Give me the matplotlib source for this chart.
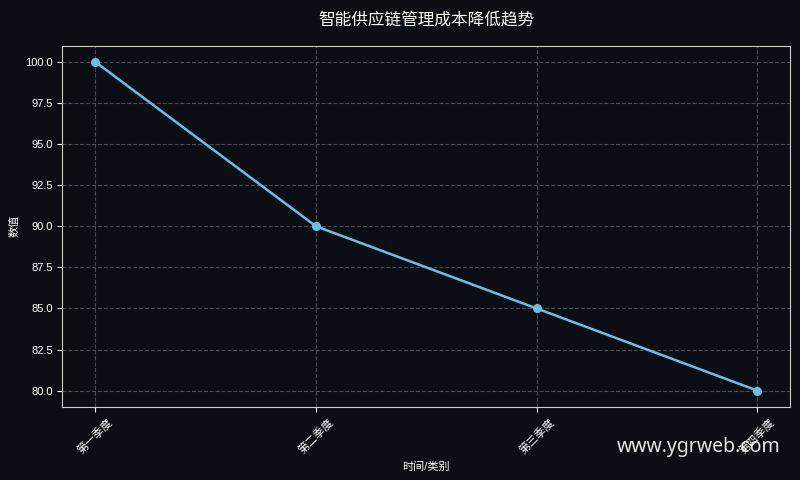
import matplotlib.pyplot as plt

plt.rcParams['font.family'] = ['Liberation Sans', 'Noto Sans CJK SC', 'DejaVu Sans']

categories = ['第一季度', '第二季度', '第三季度', '第四季度']
values = [100, 90, 85, 80]

bg = '#0b0e14'
fig, ax = plt.subplots(figsize=(8, 4.8), dpi=100)
fig.patch.set_facecolor(bg)
ax.set_facecolor(bg)

ax.plot(categories, values, color='#6bbfe0', linewidth=1.8, marker='o', markersize=5.5)

ax.set_title('智能供应链管理成本降低趋势', color='white', fontsize=12, pad=15)
ax.set_xlabel('时间/类别', color='white', fontsize=8)
ax.set_ylabel('数值', color='white', fontsize=8)
ax.tick_params(colors='white', labelsize=8)
plt.setp(ax.get_xticklabels(), rotation=45)
for s in ax.spines.values():
    s.set_color('#cccccc')
ax.grid(True, linestyle='--', color='#666666', alpha=0.7, linewidth=0.8)
ax.yaxis.set_major_formatter(plt.FormatStrFormatter('%.1f'))

fig.subplots_adjust(left=0.078, right=0.988, top=0.905, bottom=0.152)
fig.text(0.976, 0.068, 'www.ygrweb.com', color='white', fontsize=14, ha='right',
         va='center', alpha=0.9, family=['Noto Sans', 'DejaVu Sans'])

fig.savefig('out.png', dpi=100, facecolor=bg)
